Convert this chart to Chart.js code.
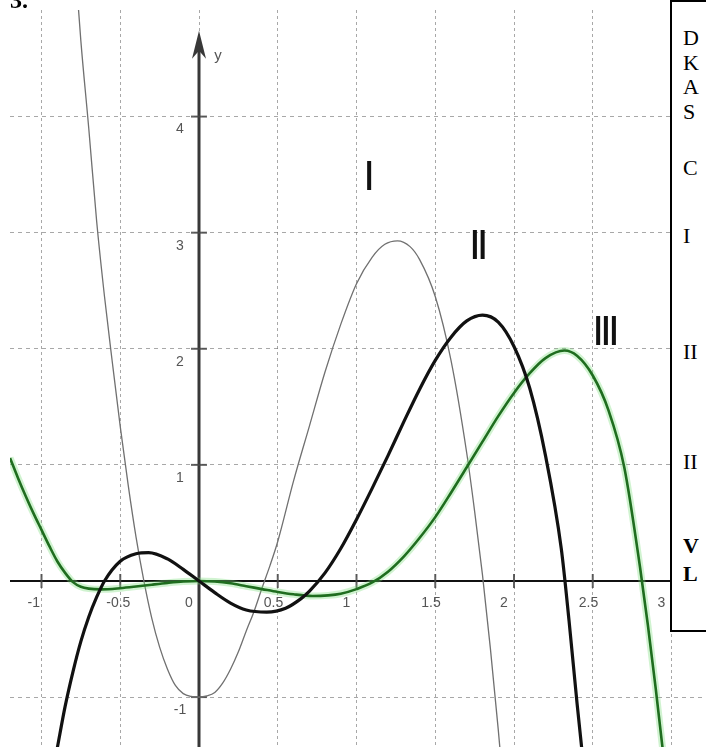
<!DOCTYPE html>
<html>
<head>
<meta charset="utf-8">
<script src="https://cdn.jsdelivr.net/npm/chart.js@4.4.1/dist/chart.umd.min.js"></script>
<style>
  html, body { margin: 0; padding: 0; background: #fff; overflow: hidden; }
  #wrap { position: relative; width: 706px; height: 747px; }
  #num { position: absolute; left: 10px; top: -12px; font: bold 24px/24px "Liberation Serif", serif; color: #000; }
  #side { position: absolute; left: 670px; top: 0; width: 80px; height: 632px; border: 2px solid #000; border-right: none;
          background: #fff; box-sizing: border-box; font: 22px/22px "Liberation Serif", serif; color: #000; }
  #side div { position: absolute; left: 11px; white-space: nowrap; }
  #side .b { font-weight: bold; }
</style>
</head>
<body>
<div id="wrap">
  <canvas id="graph"></canvas>
  <div id="num">3.</div>
  <div id="side">
    <div style="top:25px">D</div>
    <div style="top:50px">K</div>
    <div style="top:74px">A</div>
    <div style="top:99px">S</div>
    <div style="top:155px">C</div>
    <div style="top:223px">I</div>
    <div style="top:339px">II</div>
    <div style="top:449px">II</div>
    <div class="b" style="top:533px">V</div>
    <div class="b" style="top:561px">L</div>
  </div>
</div>
<script>
// kurve I (dünn, grau)
const xI = [-0.78, -0.75, -0.7, -0.65, -0.6, -0.55, -0.5, -0.45, -0.4, -0.35, -0.3, -0.25, -0.2, -0.15, -0.1, -0.05,
            0, 0.05, 0.1, 0.15, 0.2, 0.25, 0.3, 0.35, 0.4, 0.45, 0.5, 0.6, 0.7, 0.8, 0.9, 1.0, 1.1, 1.18, 1.26, 1.34,
            1.4, 1.5, 1.6, 1.7, 1.75, 1.8, 1.85, 1.9, 1.95];
const yI = [5.2, 4.65, 3.9, 3.1, 2.45, 1.88, 1.33, 0.83, 0.38, 0.0, -0.32, -0.57, -0.76, -0.9, -0.97, -0.995,
            -1.0, -0.99, -0.96, -0.88, -0.76, -0.61, -0.43, -0.26, -0.06, 0.13, 0.34, 0.86, 1.33, 1.8, 2.21, 2.56, 2.79, 2.9, 2.93, 2.88,
            2.77, 2.45, 1.9, 1.1, 0.6, 0.05, -0.58, -1.28, -2.05];

// kurve II (dick, schwarz)
const xII = [-0.9, -0.85, -0.8, -0.75, -0.7, -0.65, -0.6, -0.5, -0.4, -0.32, -0.2, -0.1, 0, 0.1, 0.2, 0.3, 0.43, 0.55,
             0.65, 0.7, 0.8, 0.9, 1.0, 1.1, 1.2, 1.3, 1.4, 1.5, 1.6, 1.7, 1.8, 1.9, 2.0, 2.1, 2.2, 2.3, 2.35, 2.4, 2.45];
const yII = [-1.44, -1.08, -0.78, -0.52, -0.31, -0.14, 0.0, 0.17, 0.235, 0.245, 0.19, 0.1, 0.0, -0.1, -0.19, -0.25, -0.268, -0.235,
             -0.15, -0.09, 0.07, 0.28, 0.53, 0.8, 1.08, 1.37, 1.65, 1.9, 2.1, 2.24, 2.29, 2.23, 2.02, 1.66, 1.08, 0.28, -0.35, -1.05, -1.7];

// kurve III (grün)
const xIII = [-1.2, -1.15, -1.1, -1.05, -1.0, -0.95, -0.9, -0.85, -0.8, -0.75, -0.7, -0.62, -0.5, -0.4, -0.3, -0.2, -0.1,
              0, 0.1, 0.2, 0.3, 0.4, 0.5, 0.6, 0.72, 0.82, 0.9, 1.0, 1.1, 1.2, 1.3, 1.4, 1.5, 1.6, 1.7, 1.8, 1.9, 2.0,
              2.1, 2.2, 2.32, 2.4, 2.5, 2.6, 2.7, 2.8, 2.85, 2.9, 2.95, 2.98];
const yIII = [1.06, 0.89, 0.73, 0.58, 0.44, 0.3, 0.17, 0.07, -0.01, -0.05, -0.066, -0.072, -0.062, -0.048, -0.032, -0.017, -0.005,
              0, -0.005, -0.02, -0.045, -0.07, -0.095, -0.115, -0.129, -0.124, -0.11, -0.07, -0.013, 0.08, 0.21, 0.37, 0.55, 0.76, 0.98, 1.2, 1.42, 1.62,
              1.79, 1.92, 1.985, 1.94, 1.77, 1.47, 0.98, 0.12, -0.38, -0.93, -1.52, -1.9];

const xTickValues = [-1, -0.5, 0, 0.5, 1, 1.5, 2, 2.5, 3];
const xTickLabels = ['-1', '-0.5', '0', '0.5', '1', '1.5', '2', '2.5', '3'];
const yTickValues = [-1, 0, 1, 2, 3, 4];
const yTickLabels = ['-1', '0', '1', '2', '3', '4'];

const curveNames = ['I', 'II', 'III'];
const nameX = [1.08, 1.776, 2.584];
const nameY = [3.47, 2.87, 2.13];

const xMin = -1.2, xMax = 3.219;
const yMin = -1.43, yMax = 4.918;
const yArrowTip = 4.74;

const pts = (xs, ys) => xs.map((v, i) => ({ x: v, y: ys[i] }));

// achsen, pfeil, skalenstriche und zahlen
const axesPlugin = {
  id: 'axes',
  beforeDatasetsDraw(chart) {
    const { ctx, chartArea: a, scales: { x, y } } = chart;
    const x0 = x.getPixelForValue(0), y0 = y.getPixelForValue(0);
    ctx.save();

    ctx.strokeStyle = '#111';
    ctx.lineWidth = 2;
    ctx.beginPath(); ctx.moveTo(a.left, y0); ctx.lineTo(a.right, y0); ctx.stroke();

    const top = y.getPixelForValue(yArrowTip);
    ctx.strokeStyle = '#383838';
    ctx.lineWidth = 3;
    ctx.beginPath(); ctx.moveTo(x0, a.bottom); ctx.lineTo(x0, top + 8); ctx.stroke();
    ctx.fillStyle = '#383838';
    ctx.beginPath();
    ctx.moveTo(x0, top);
    ctx.lineTo(x0 - 7, top + 28);
    ctx.lineTo(x0, top + 20);
    ctx.lineTo(x0 + 7, top + 28);
    ctx.closePath();
    ctx.fill();

    // skalenstriche
    ctx.strokeStyle = 'rgba(70,70,70,0.85)';
    ctx.lineWidth = 2;
    xTickValues.forEach(v => {
      if (v === 0) return;
      const px = x.getPixelForValue(v);
      ctx.beginPath(); ctx.moveTo(px, y0 - 7); ctx.lineTo(px, y0 + 7); ctx.stroke();
    });
    yTickValues.forEach(v => {
      if (v === 0) return;
      const py = y.getPixelForValue(v);
      ctx.beginPath(); ctx.moveTo(x0 - 8, py); ctx.lineTo(x0 + 8, py); ctx.stroke();
    });

    // beschriftung
    ctx.fillStyle = '#555';
    ctx.font = '14px "Liberation Sans", Arial, sans-serif';
    ctx.textBaseline = 'middle';
    ctx.textAlign = 'left';
    xTickValues.forEach((v, i) => {
      ctx.fillText(xTickLabels[i], x.getPixelForValue(v) - 14, y0 + 22);
    });
    ctx.textAlign = 'center';
    yTickValues.forEach((v, i) => {
      if (v === 0) return;
      ctx.fillText(yTickLabels[i], x0 - 19, y.getPixelForValue(v) + 13);
    });
    ctx.font = '15px "Liberation Sans", Arial, sans-serif';
    ctx.fillText('y', x0 + 19, top + 25);
    ctx.restore();
  },
  afterDatasetsDraw(chart) {
    const { ctx, scales: { x, y } } = chart;
    ctx.save();
    ctx.fillStyle = '#111';
    ctx.font = 'bold 28px "Liberation Sans", Arial, sans-serif';
    ctx.textAlign = 'center';
    ctx.textBaseline = 'middle';
    curveNames.forEach((t, i) => {
      ctx.save();
      ctx.translate(x.getPixelForValue(nameX[i]), y.getPixelForValue(nameY[i]));
      ctx.scale(1, 1.5);
      ctx.fillText(t, 0, 0);
      ctx.restore();
    });
    ctx.restore();
  }
};

const lineDefaults = { pointRadius: 0, fill: false, cubicInterpolationMode: 'monotone', clip: 0 };

new Chart(document.getElementById('graph'), {
  type: 'line',
  data: {
    datasets: [
      { ...lineDefaults, label: 'II', data: pts(xII, yII), borderColor: '#111', borderWidth: 3.2, order: 0 },
      { ...lineDefaults, label: 'III', data: pts(xIII, yIII), borderColor: '#1f6d1f', borderWidth: 2.6, order: 1 },
      { ...lineDefaults, label: 'III-glow', data: pts(xIII, yIII), borderColor: 'rgba(120,220,120,0.35)', borderWidth: 7, order: 2 },
      { ...lineDefaults, label: 'I', data: pts(xI, yI), borderColor: '#707070', borderWidth: 1.3, order: 3 }
    ]
  },
  options: {
    responsive: true,
    maintainAspectRatio: false,
    animation: false,
    devicePixelRatio: 1,
    layout: { padding: { left: 10, top: 10, right: 0, bottom: 0 } },
    plugins: { legend: { display: false }, tooltip: { enabled: false } },
    scales: {
      x: {
        type: 'linear', min: xMin, max: xMax,
        afterBuildTicks: s => { s.ticks = xTickValues.map(v => ({ value: v })); },
        grid: { color: 'rgba(110,110,110,0.6)', lineWidth: 1, drawTicks: false },
        border: { display: false, dash: [3, 3] },
        ticks: { display: false }
      },
      y: {
        type: 'linear', min: yMin, max: yMax,
        afterBuildTicks: s => { s.ticks = yTickValues.map(v => ({ value: v })); },
        grid: { color: 'rgba(110,110,110,0.6)', lineWidth: 1, drawTicks: false },
        border: { display: false, dash: [4, 4] },
        ticks: { display: false }
      }
    }
  },
  plugins: [axesPlugin]
});
</script>
</body>
</html>
